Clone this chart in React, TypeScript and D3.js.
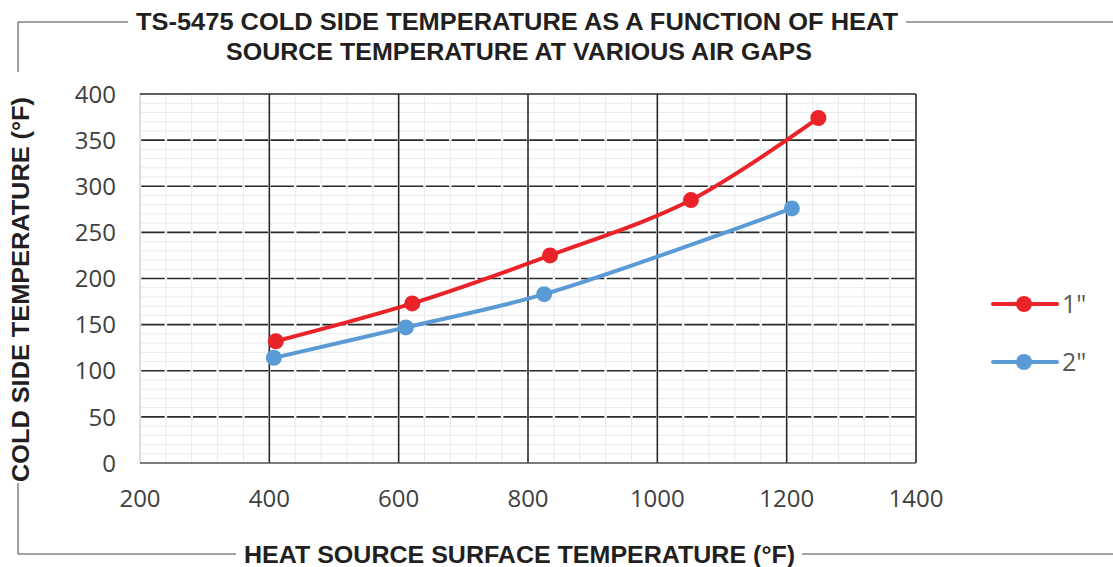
import React, { useRef, useEffect } from "react";
import * as d3 from "d3";

// heat source surface temperature (°F) -> cold side temperature (°F)
const gap1X = [410, 621, 834, 1052, 1249];
const gap1Y = [132, 173, 225, 285, 374];
const gap2X = [407, 611, 825, 1208];
const gap2Y = [114, 147, 183, 276];

const seriesNames = ['1"', '2"'];
const xTicks = [200, 400, 600, 800, 1000, 1200, 1400];
const yTicks = [0, 50, 100, 150, 200, 250, 300, 350, 400];

const titleLines = [
    "TS-5475 COLD SIDE TEMPERATURE AS A FUNCTION OF HEAT",
    "SOURCE TEMPERATURE AT VARIOUS AIR GAPS",
];
const xTitle = "HEAT SOURCE SURFACE TEMPERATURE (°F)";
const yTitle = "COLD SIDE TEMPERATURE (°F)";

export default function App() {
    const ref = useRef<SVGSVGElement | null>(null);

    useEffect(() => {
        const width = 1113;
        const height = 567;
        const svg = d3.select(ref.current).attr("width", width).attr("height", height);
        svg.selectAll("*").remove();

        const left = 140, right = 916, top = 94, bottom = 463;
        const x = d3.scaleLinear().domain([200, 1400]).range([left, right]);
        const y = d3.scaleLinear().domain([0, 400]).range([bottom, top]);

        const tickFont = "'Open Sans', 'Liberation Sans', sans-serif";
        const boldFont = "'Liberation Sans', 'DejaVu Sans', sans-serif";
        const red = "#ea2329";
        const blue = "#5b9bd5";

        svg.append("rect").attr("width", width).attr("height", height).attr("fill", "#fff");

        // frame around the chart
        const frame = svg.append("g").attr("stroke", "#444").attr("stroke-width", 1).attr("fill", "none");
        frame.append("path").attr("d", "M18,72 V22 H128");
        frame.append("path").attr("d", "M906,22 H1113");
        frame.append("path").attr("d", "M18,483 V554 H236");
        frame.append("path").attr("d", "M802,554 H1113");

        // titles
        titleLines.forEach((t, i) => {
            svg.append("text")
                .attr("x", i === 0 ? 136 : 226)
                .attr("y", i === 0 ? 30 : 60)
                .attr("textLength", i === 0 ? 762 : 586)
                .attr("lengthAdjust", "spacingAndGlyphs")
                .attr("font-family", boldFont)
                .attr("font-weight", "bold")
                .attr("font-size", 24)
                .attr("fill", "#231f20")
                .text(t);
        });
        svg.append("text")
            .attr("x", 244).attr("y", 563)
            .attr("textLength", 551)
            .attr("lengthAdjust", "spacingAndGlyphs")
            .attr("font-family", boldFont).attr("font-weight", "bold")
            .attr("font-size", 23).attr("fill", "#231f20")
            .text(xTitle);
        svg.append("text")
            .attr("transform", "translate(29,482) rotate(-90)")
            .attr("textLength", 385)
            .attr("lengthAdjust", "spacingAndGlyphs")
            .attr("font-family", boldFont).attr("font-weight", "bold")
            .attr("font-size", 24).attr("fill", "#231f20")
            .text(yTitle);

        // minor grid
        const grid = svg.append("g");
        grid.selectAll("line.vminor")
            .data(d3.range(200, 1401, 40))
            .enter().append("line")
            .attr("x1", (d) => x(d)).attr("x2", (d) => x(d))
            .attr("y1", top).attr("y2", bottom)
            .attr("stroke", "#e8ebee").attr("stroke-width", 1);
        grid.selectAll("line.hminor")
            .data(d3.range(0, 401, 10))
            .enter().append("line")
            .attr("x1", left).attr("x2", right)
            .attr("y1", (d) => y(d)).attr("y2", (d) => y(d))
            .attr("stroke", "#e8ebee").attr("stroke-width", 1);

        // major grid
        const step = x(240) - x(200);
        const gapW = 2.5;
        grid.selectAll("line.hmajor")
            .data(yTicks.slice(1, -1))
            .enter().append("line")
            .attr("x1", left).attr("x2", right)
            .attr("y1", (d) => y(d)).attr("y2", (d) => y(d))
            .attr("stroke", "#2b2b2b").attr("stroke-width", 1.6)
            .attr("stroke-dasharray", `${step - gapW} ${gapW}`)
            .attr("stroke-dashoffset", step - gapW / 2);
        grid.selectAll("line.vmajor")
            .data(xTicks.slice(1, -1))
            .enter().append("line")
            .attr("x1", (d) => x(d)).attr("x2", (d) => x(d))
            .attr("y1", top).attr("y2", bottom)
            .attr("stroke", "#2b2b2b").attr("stroke-width", 1.6);

        // plot borders
        svg.append("line").attr("x1", left).attr("x2", left).attr("y1", top).attr("y2", bottom)
            .attr("stroke", "#c8c8c8").attr("stroke-width", 1);
        svg.append("line").attr("x1", left).attr("x2", right).attr("y1", top).attr("y2", top)
            .attr("stroke", "#2b2b2b").attr("stroke-width", 1.6);
        svg.append("line").attr("x1", right).attr("x2", right).attr("y1", top).attr("y2", bottom)
            .attr("stroke", "#2b2b2b").attr("stroke-width", 1.6);
        svg.append("line").attr("x1", left).attr("x2", right).attr("y1", bottom).attr("y2", bottom)
            .attr("stroke", "#555").attr("stroke-width", 1.6);

        // tick labels
        svg.append("g").selectAll("text")
            .data(yTicks).enter().append("text")
            .attr("x", 116).attr("y", (d) => y(d)).attr("dy", "0.36em")
            .attr("text-anchor", "end")
            .attr("font-family", tickFont).attr("font-size", 24).attr("fill", "#404040")
            .text((d) => d);
        svg.append("g").selectAll("text")
            .data(xTicks).enter().append("text")
            .attr("x", (d) => x(d)).attr("y", 498).attr("dy", "0.36em")
            .attr("text-anchor", "middle")
            .attr("font-family", tickFont).attr("font-size", 24).attr("fill", "#404040")
            .text((d) => d);

        // series
        const series = [
            { name: seriesNames[0], color: red, pts: gap1X.map((v, i) => [v, gap1Y[i]] as [number, number]) },
            { name: seriesNames[1], color: blue, pts: gap2X.map((v, i) => [v, gap2Y[i]] as [number, number]) },
        ];
        const line = d3.line<[number, number]>()
            .x((d) => x(d[0]))
            .y((d) => y(d[1]))
            .curve(d3.curveCatmullRom.alpha(0.5));

        series.slice().reverse().forEach((s) => {
            const g = svg.append("g");
            g.append("path")
                .attr("d", line(s.pts))
                .attr("fill", "none")
                .attr("stroke", s.color)
                .attr("stroke-width", 4)
                .attr("stroke-linecap", "round");
            g.selectAll("circle")
                .data(s.pts).enter().append("circle")
                .attr("cx", (d) => x(d[0])).attr("cy", (d) => y(d[1]))
                .attr("r", 8).attr("fill", s.color);
        });

        // legend
        series.forEach((s, i) => {
            const ly = 304 + i * 58;
            const g = svg.append("g");
            g.append("line").attr("x1", 993).attr("x2", 1057).attr("y1", ly).attr("y2", ly)
                .attr("stroke", s.color).attr("stroke-width", 4).attr("stroke-linecap", "round");
            g.append("circle").attr("cx", 1024).attr("cy", ly).attr("r", 8).attr("fill", s.color);
            g.append("text").attr("x", 1062).attr("y", ly).attr("dy", "0.36em")
                .attr("font-family", tickFont).attr("font-size", 25).attr("fill", "#595959")
                .text(s.name);
        });
    }, []);

    return (
        <svg ref={ref} style={{ position: "absolute", left: 0, top: 0, display: "block" }}></svg>
    );
}
